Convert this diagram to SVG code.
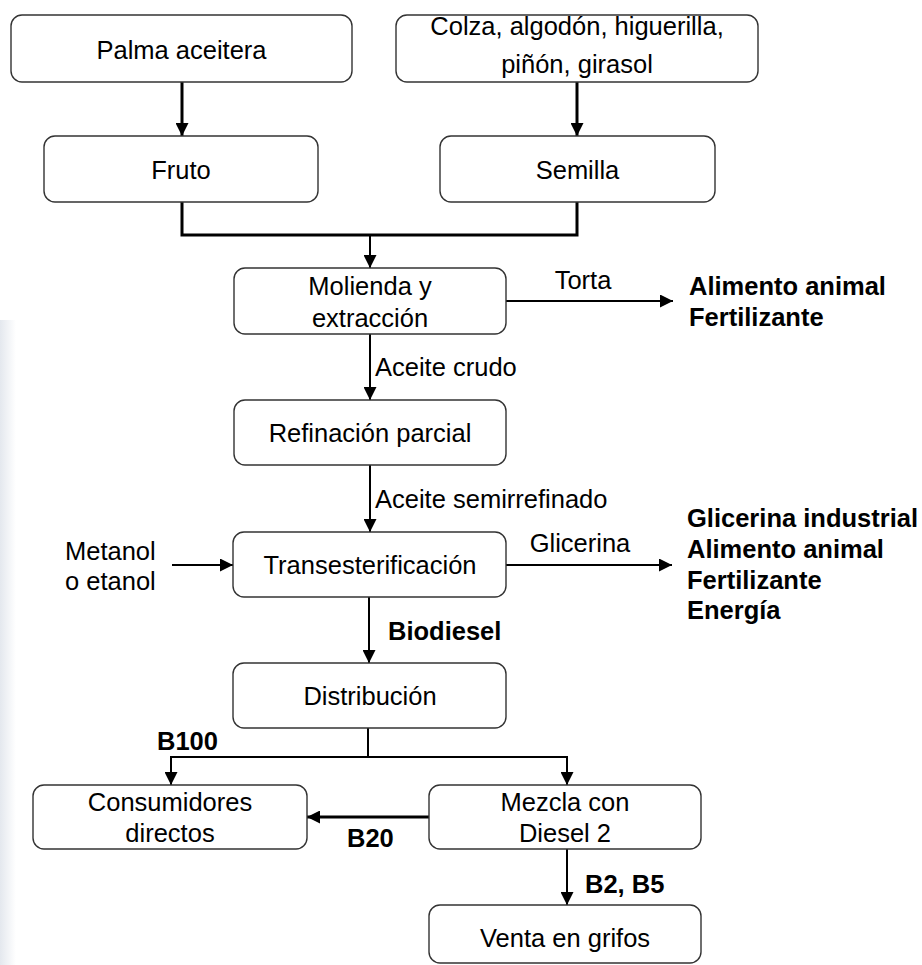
<svg xmlns="http://www.w3.org/2000/svg" width="922" height="965" viewBox="0 0 922 965">
<style>
  .box { fill: #ffffff; stroke: #333333; stroke-width: 1.4; }
  .t { font-family: "Liberation Sans", Arial, sans-serif; font-size: 25.5px; fill: #000000; text-anchor: middle; }
  .l { font-family: "Liberation Sans", Arial, sans-serif; font-size: 25.5px; fill: #000000; }
  .b { font-family: "Liberation Sans", Arial, sans-serif; font-size: 25.5px; font-weight: bold; fill: #000000; }
  .c { fill: none; stroke: #000000; stroke-width: 2; }
  .ck { fill: none; stroke: #000000; stroke-width: 3; }
  .a { marker-end: url(#arr); }
</style>
<defs>
  <marker id="arr" markerUnits="userSpaceOnUse" markerWidth="13" markerHeight="13" refX="13" refY="6.5" orient="auto">
    <path d="M0,0 L13,6.5 L0,13 z" fill="#000000"/>
  </marker>
  <linearGradient id="edge" x1="0" y1="0" x2="1" y2="0">
    <stop offset="0" stop-color="#e4e8ee"/>
    <stop offset="1" stop-color="#ffffff"/>
  </linearGradient>
</defs>
<rect x="0" y="0" width="922" height="965" fill="#ffffff"/>
<rect x="0" y="320" width="16" height="645" fill="url(#edge)"/>

<g id="connectors">
  <line class="ck a" x1="182" y1="82" x2="182" y2="136"/>
  <line class="ck a" x1="577" y1="82" x2="577" y2="136"/>
  <polyline class="ck" points="182,202 182,235 577,235 577,202"/>
  <line class="c a" x1="370" y1="235" x2="370" y2="268"/>
  <line class="c a" x1="506" y1="301" x2="673" y2="301"/>
  <line class="c a" x1="370" y1="334" x2="370" y2="400"/>
  <line class="c a" x1="370" y1="465" x2="370" y2="532"/>
  <line class="c a" x1="172" y1="565" x2="233" y2="565"/>
  <line class="c a" x1="506" y1="565" x2="672" y2="565"/>
  <line class="c a" x1="369" y1="597" x2="369" y2="663"/>
  <line class="c" x1="368" y1="728" x2="368" y2="757"/>
  <polyline class="c a" points="368,757 171,757 171,785"/>
  <polyline class="c a" points="368,757 567,757 567,785"/>
  <line class="ck a" x1="429" y1="817" x2="307" y2="817"/>
  <line class="c a" x1="567" y1="849" x2="567" y2="905"/>
</g>

<g id="palma">
  <rect class="box" x="11" y="15" width="341" height="67" rx="11"/>
  <text class="t" x="181.5" y="59">Palma aceitera</text>
</g>
<g id="colza">
  <rect class="box" x="396" y="15" width="362" height="67" rx="11"/>
  <text class="t" x="577" y="35">Colza, algodón, higuerilla,</text>
  <text class="t" x="577" y="73">piñón, girasol</text>
</g>
<g id="fruto">
  <rect class="box" x="44" y="136" width="274" height="66" rx="11"/>
  <text class="t" x="181" y="179">Fruto</text>
</g>
<g id="semilla">
  <rect class="box" x="440" y="136" width="275" height="66" rx="11"/>
  <text class="t" x="577.5" y="179">Semilla</text>
</g>
<g id="molienda">
  <rect class="box" x="234" y="268" width="272" height="66" rx="11"/>
  <text class="t" x="370" y="295">Molienda y</text>
  <text class="t" x="370" y="327">extracción</text>
</g>
<g id="torta-label">
  <text class="l" x="583" y="289" text-anchor="middle">Torta</text>
</g>
<g id="torta-uses">
  <text class="b" x="689" y="295">Alimento animal</text>
  <text class="b" x="689" y="326">Fertilizante</text>
</g>
<g id="aceite-crudo">
  <text class="l" x="375" y="376">Aceite crudo</text>
</g>
<g id="refinacion">
  <rect class="box" x="234" y="400" width="272" height="65" rx="11"/>
  <text class="t" x="370" y="442">Refinación parcial</text>
</g>
<g id="aceite-semi">
  <text class="l" x="375" y="508">Aceite semirrefinado</text>
</g>
<g id="metanol">
  <text class="l" x="65" y="560">Metanol</text>
  <text class="l" x="65" y="590">o etanol</text>
</g>
<g id="transesterificacion">
  <rect class="box" x="233" y="532" width="273" height="65" rx="11"/>
  <text class="t" x="370" y="574">Transesterificación</text>
</g>
<g id="glicerina-label">
  <text class="l" x="580" y="552" text-anchor="middle">Glicerina</text>
</g>
<g id="glicerina-uses">
  <text class="b" x="687" y="527">Glicerina industrial</text>
  <text class="b" x="687" y="558">Alimento animal</text>
  <text class="b" x="687" y="589">Fertilizante</text>
  <text class="b" x="687" y="619">Energía</text>
</g>
<g id="biodiesel-label">
  <text class="b" x="388" y="640">Biodiesel</text>
</g>
<g id="distribucion">
  <rect class="box" x="233" y="663" width="273" height="65" rx="11"/>
  <text class="t" x="370" y="705">Distribución</text>
</g>
<g id="b100-label">
  <text class="b" x="157" y="750">B100</text>
</g>
<g id="consumidores">
  <rect class="box" x="33" y="785" width="274" height="64" rx="11"/>
  <text class="t" x="170" y="811">Consumidores</text>
  <text class="t" x="170" y="842">directos</text>
</g>
<g id="b20-label">
  <text class="b" x="347" y="847">B20</text>
</g>
<g id="mezcla">
  <rect class="box" x="429" y="785" width="272" height="64" rx="11"/>
  <text class="t" x="565" y="811">Mezcla con</text>
  <text class="t" x="565" y="842">Diesel 2</text>
</g>
<g id="b2b5-label">
  <text class="b" x="585" y="893">B2, B5</text>
</g>
<g id="venta">
  <rect class="box" x="429" y="905" width="272" height="58" rx="11"/>
  <text class="t" x="565" y="947">Venta en grifos</text>
</g>
</svg>
